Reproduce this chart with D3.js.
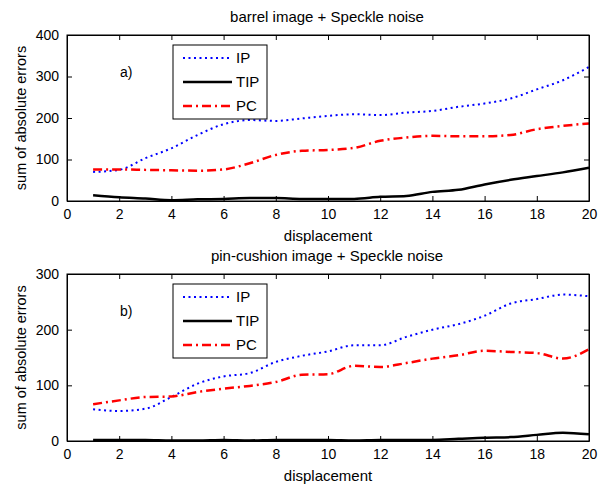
<!DOCTYPE html>
<html><head><meta charset="utf-8">
<script src="https://cdn.jsdelivr.net/npm/d3@7"></script>
<style>body{margin:0;background:#fff}svg{display:block}text{font-family:"Liberation Sans",Arial,sans-serif;fill:#000}</style>
</head><body>
<script>
const displacement = [1,2,3,4,5,6,7,8,9,10,11,12,13,14,15,16,17,18,19,20];
const xTicks = [0,2,4,6,8,10,12,14,16,18,20];
// panel a) barrel image + Speckle noise
const barrelIP  = [70,75,103,127,159,185,195,193,199,205,209,207,213,217,227,235,247,269,291,323];
const barrelTIP = [14,9,6,2,4,5,7,7,5,5,5,10,12,22,27,40,51,60,69,80];
const barrelPC  = [76,76,75,74,73,76,91,111,121,123,128,145,153,157,156,156,159,173,181,187];
const barrelYTicks = [0,100,200,300,400];
// panel b) pin-cushion image + Speckle noise
const pinIP  = [57,54,58,79,103,116,122,142,153,161,172,172,187,200,210,225,247,255,263,260];
const pinTIP = [2,2,2,1,1,2,1,2,2,2,1,2,2,2,4,6,7,11,15,12];
const pinPC  = [66,73,79,80,88,94,99,106,119,120,135,133,140,148,154,162,160,158,148,165];
const pinYTicks = [0,100,200,300];
const seriesNames = ["IP","TIP","PC"];

const W=608,H=484;
const svg=d3.select("body").append("svg").attr("width",W).attr("height",H);
const styles={
  IP:{stroke:"#0000ff",width:2,dash:"2,3.5"},
  TIP:{stroke:"#000",width:2.5,dash:null},
  PC:{stroke:"#ff0000",width:2.5,dash:"9,4,2,4"}
};
function panel(cfg){
  const x=d3.scaleLinear().domain([0,20]).range([67,589]);
  const y=d3.scaleLinear().domain([0,cfg.ymax]).range([cfg.bottom,cfg.top]);
  const g=svg.append("g");
  const data={IP:cfg.ip,TIP:cfg.tip,PC:cfg.pc};
  const line=d3.line().x((d,i)=>x(displacement[i])).y(d=>y(d)).curve(d3.curveMonotoneX);
  seriesNames.forEach(n=>{
    g.append("path").datum(data[n]).attr("d",line).attr("fill","none")
      .attr("stroke",styles[n].stroke).attr("stroke-width",styles[n].width)
      .attr("stroke-dasharray",styles[n].dash);
  });
  const tl=5;
  const xb=d3.axisBottom(x).tickValues(xTicks).tickSizeInner(-tl).tickSizeOuter(0).tickPadding(8);
  const xt=d3.axisTop(x).tickValues(xTicks).tickSizeInner(-tl).tickSizeOuter(0).tickFormat("");
  const yl=d3.axisLeft(y).tickValues(cfg.yticks).tickSizeInner(-tl).tickSizeOuter(0).tickPadding(8);
  const yr=d3.axisRight(y).tickValues(cfg.yticks).tickSizeInner(-tl).tickSizeOuter(0).tickFormat("");
  [[xb,`translate(0,${cfg.bottom})`],[xt,`translate(0,${cfg.top})`],[yl,`translate(67,0)`],[yr,`translate(589,0)`]].forEach(([a,t])=>{
    const ag=g.append("g").attr("transform",t).call(a);
    ag.selectAll("text").style("font-size","14px").style("font-family","'Liberation Sans',Arial,sans-serif");
    ag.select(".domain").attr("stroke","#000");
  });
  g.append("rect").attr("x",67).attr("y",cfg.top).attr("width",522).attr("height",cfg.bottom-cfg.top)
    .attr("fill","none").attr("stroke","#000").attr("stroke-width",1);
  const lx=173,ly=cfg.top+10;
  g.append("rect").attr("x",lx).attr("y",ly).attr("width",94).attr("height",74)
    .attr("fill","#fff").attr("stroke","#000").attr("stroke-width",1);
  seriesNames.forEach((n,i)=>{
    const yy=ly+13+i*24;
    g.append("line").attr("x1",lx+10).attr("x2",lx+59).attr("y1",yy).attr("y2",yy)
      .attr("stroke",styles[n].stroke).attr("stroke-width",styles[n].width).attr("stroke-dasharray",styles[n].dash);
    g.append("text").attr("x",lx+63).attr("y",yy+5).style("font-size","15px").text(n);
  });
  g.append("text").attr("x",120).attr("y",cfg.top+42).style("font-size","14px").text(cfg.tag);
  g.append("text").attr("x",327).attr("y",cfg.top-13).attr("text-anchor","middle").style("font-size","15px").text(cfg.title);
  g.append("text").attr("x",328).attr("y",cfg.bottom+40).attr("text-anchor","middle").style("font-size","15px").text("displacement");
  g.append("text").attr("transform",`translate(26,${(cfg.top+cfg.bottom)/2}) rotate(-90)`).attr("text-anchor","middle")
    .style("font-size","14.5px").text("sum of absolute errors");
}
panel({top:35,bottom:201,ymax:400,yticks:barrelYTicks,ip:barrelIP,tip:barrelTIP,pc:barrelPC,tag:"a)",title:"barrel image + Speckle noise"});
panel({top:274,bottom:441,ymax:300,yticks:pinYTicks,ip:pinIP,tip:pinTIP,pc:pinPC,tag:"b)",title:"pin-cushion image + Speckle noise"});
</script>
</body></html>
